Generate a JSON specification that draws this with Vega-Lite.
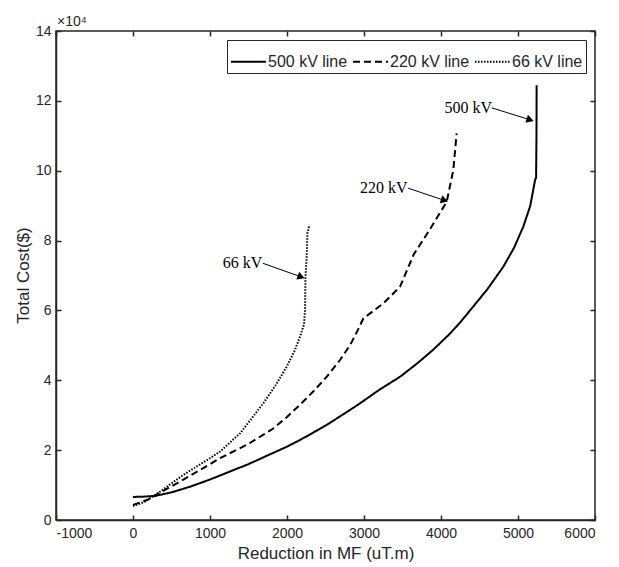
{
  "$schema": "https://vega.github.io/schema/vega-lite/v6.json",
  "autosize": {"type": "none"},
  "width": 539,
  "height": 489,
  "padding": {"left": 56, "top": 31, "right": 24, "bottom": 47},
  "background": "white",
  "config": {
    "view": {"stroke": "#262626", "strokeWidth": 1.5},
    "axis": {
      "grid": false,
      "domainColor": "#262626",
      "domainWidth": 1.5,
      "tickColor": "#262626",
      "tickWidth": 1.5,
      "labelColor": "#262626",
      "labelFont": "Liberation Sans",
      "labelFontSize": 14,
      "titleFont": "Liberation Sans",
      "titleFontSize": 17,
      "titleFontWeight": "normal",
      "titleColor": "#262626"
    },
    "legend": {
      "orient": "top-right",
      "offset": 9,
      "direction": "horizontal",
      "strokeColor": "#262626",
      "fillColor": "white",
      "padding": 3,
      "labelFont": "Liberation Sans",
      "labelFontSize": 16,
      "labelColor": "#262626",
      "labelOffset": 1,
      "columnPadding": 1,
      "symbolType": "stroke",
      "symbolSize": 1225,
      "symbolStrokeWidth": 2,
      "symbolStrokeColor": "black",
      "cornerRadius": 0
    }
  },
  "datasets": {
    "curves": [
      {"line": "500 kV line", "x": 0, "y": 6600},
      {"line": "500 kV line", "x": 150, "y": 6700},
      {"line": "500 kV line", "x": 286, "y": 6900},
      {"line": "500 kV line", "x": 500, "y": 7900},
      {"line": "500 kV line", "x": 750, "y": 9600},
      {"line": "500 kV line", "x": 1000, "y": 11600},
      {"line": "500 kV line", "x": 1500, "y": 16000},
      {"line": "500 kV line", "x": 2000, "y": 21000},
      {"line": "500 kV line", "x": 2169, "y": 22900},
      {"line": "500 kV line", "x": 2500, "y": 27000},
      {"line": "500 kV line", "x": 2818, "y": 31500},
      {"line": "500 kV line", "x": 2948, "y": 33400},
      {"line": "500 kV line", "x": 3200, "y": 37300},
      {"line": "500 kV line", "x": 3468, "y": 41000},
      {"line": "500 kV line", "x": 3700, "y": 45000},
      {"line": "500 kV line", "x": 3896, "y": 48700},
      {"line": "500 kV line", "x": 4100, "y": 53000},
      {"line": "500 kV line", "x": 4247, "y": 56500},
      {"line": "500 kV line", "x": 4377, "y": 60000},
      {"line": "500 kV line", "x": 4600, "y": 66000},
      {"line": "500 kV line", "x": 4809, "y": 72500},
      {"line": "500 kV line", "x": 4950, "y": 78000},
      {"line": "500 kV line", "x": 5069, "y": 84000},
      {"line": "500 kV line", "x": 5160, "y": 90000},
      {"line": "500 kV line", "x": 5221, "y": 97300},
      {"line": "500 kV line", "x": 5235, "y": 98000},
      {"line": "500 kV line", "x": 5240, "y": 110000},
      {"line": "500 kV line", "x": 5242, "y": 124500},
      {"line": "220 kV line", "x": 0, "y": 4300},
      {"line": "220 kV line", "x": 200, "y": 5900},
      {"line": "220 kV line", "x": 350, "y": 7800},
      {"line": "220 kV line", "x": 610, "y": 11000},
      {"line": "220 kV line", "x": 1000, "y": 16000},
      {"line": "220 kV line", "x": 1130, "y": 17700},
      {"line": "220 kV line", "x": 1500, "y": 21800},
      {"line": "220 kV line", "x": 1822, "y": 26200},
      {"line": "220 kV line", "x": 2000, "y": 29500},
      {"line": "220 kV line", "x": 2169, "y": 33000},
      {"line": "220 kV line", "x": 2350, "y": 37000},
      {"line": "220 kV line", "x": 2515, "y": 41000},
      {"line": "220 kV line", "x": 2688, "y": 45800},
      {"line": "220 kV line", "x": 2818, "y": 50000},
      {"line": "220 kV line", "x": 2900, "y": 53500},
      {"line": "220 kV line", "x": 2991, "y": 57700},
      {"line": "220 kV line", "x": 3100, "y": 59500},
      {"line": "220 kV line", "x": 3251, "y": 62000},
      {"line": "220 kV line", "x": 3468, "y": 66800},
      {"line": "220 kV line", "x": 3645, "y": 76000},
      {"line": "220 kV line", "x": 3850, "y": 83000},
      {"line": "220 kV line", "x": 4074, "y": 91100},
      {"line": "220 kV line", "x": 4160, "y": 100200},
      {"line": "220 kV line", "x": 4203, "y": 110700},
      {"line": "66 kV line", "x": 0, "y": 4000},
      {"line": "66 kV line", "x": 150, "y": 5200},
      {"line": "66 kV line", "x": 350, "y": 8100},
      {"line": "66 kV line", "x": 653, "y": 12900},
      {"line": "66 kV line", "x": 1000, "y": 17700},
      {"line": "66 kV line", "x": 1130, "y": 19600},
      {"line": "66 kV line", "x": 1390, "y": 24800},
      {"line": "66 kV line", "x": 1692, "y": 33400},
      {"line": "66 kV line", "x": 1850, "y": 38500},
      {"line": "66 kV line", "x": 1996, "y": 43900},
      {"line": "66 kV line", "x": 2100, "y": 48500},
      {"line": "66 kV line", "x": 2169, "y": 52500},
      {"line": "66 kV line", "x": 2221, "y": 56000},
      {"line": "66 kV line", "x": 2234, "y": 60100},
      {"line": "66 kV line", "x": 2240, "y": 69700},
      {"line": "66 kV line", "x": 2255, "y": 75000},
      {"line": "66 kV line", "x": 2265, "y": 82000},
      {"line": "66 kV line", "x": 2290, "y": 84500}
    ],
    "labels": [
      {"label": "66 kV", "x": 1422, "y": 73500, "ax": 1688, "ay": 73500, "bx": 2184, "by": 69600, "angle": 20},
      {"label": "220 kV", "x": 3256, "y": 95000, "ax": 3573, "ay": 95000, "bx": 4045, "by": 91500, "angle": 18.5},
      {"label": "500 kV", "x": 4355, "y": 118000, "ax": 4658, "ay": 118000, "bx": 5158, "by": 114570, "angle": 17.5}
    ],
    "corner": [{"x": -1000, "y": 140000, "t": "×10⁴"}]
  },
  "layer": [
    {
      "data": {"name": "curves"},
      "mark": {"type": "line", "color": "black", "strokeWidth": 2},
      "encoding": {
        "x": {
          "field": "x", "type": "quantitative",
          "scale": {"domain": [-1000, 6000], "nice": false, "zero": false},
          "axis": {
            "orient": "bottom",
            "tickCount": 7,
            "labelExpr": "'' + datum.value",
            "tickSize": -5,
            "labelPadding": 11,
            "title": "Reduction in MF (uT.m)",
            "titleY": 25,
            "titleBaseline": "top"
          }
        },
        "y": {
          "field": "y", "type": "quantitative",
          "scale": {"domain": [0, 140000], "nice": false},
          "axis": {
            "orient": "left",
            "tickCount": 7,
            "labelExpr": "'' + datum.value / 10000",
            "tickSize": -5,
            "labelPadding": 10,
            "title": "Total Cost($)",
            "titleX": -33,
            "titleY": 244,
            "titleAlign": "center",
            "titleBaseline": "middle",
            "titleAngle": -90
          }
        },
        "strokeDash": {
          "field": "line", "type": "nominal",
          "scale": {
            "domain": ["500 kV line", "220 kV line", "66 kV line"],
            "range": [[1, 0], [7, 4], [1.5, 1.5]]
          },
          "legend": {"title": null}
        }
      }
    },
    {
      "data": {"name": "corner"},
      "mark": {"type": "text", "align": "left", "baseline": "bottom", "dx": 1, "dy": -2, "font": "Liberation Sans", "fontSize": 14, "color": "#262626"},
      "encoding": {
        "x": {"field": "x", "type": "quantitative", "axis": {"orient": "top", "tickCount": 7, "tickSize": -5, "labels": false, "title": null, "domain": false}},
        "y": {"field": "y", "type": "quantitative", "axis": {"orient": "right", "tickCount": 7, "tickSize": -5, "labels": false, "title": null, "domain": false}},
        "text": {"field": "t"}
      }
    },
    {
      "data": {"name": "labels"},
      "mark": {"type": "rule", "color": "black", "strokeWidth": 1},
      "encoding": {
        "x": {"field": "ax", "type": "quantitative", "axis": null},
        "y": {"field": "ay", "type": "quantitative", "axis": null},
        "x2": {"field": "bx"},
        "y2": {"field": "by"}
      }
    },
    {
      "data": {"name": "labels"},
      "mark": {"type": "point", "shape": "triangle-right", "filled": true, "color": "black", "size": 70, "opacity": 1},
      "encoding": {
        "x": {"field": "bx", "type": "quantitative", "axis": null},
        "y": {"field": "by", "type": "quantitative", "axis": null},
        "angle": {"field": "angle", "type": "quantitative", "scale": null}
      }
    },
    {
      "data": {"name": "labels"},
      "mark": {"type": "text", "font": "Liberation Serif", "fontSize": 16, "color": "black", "align": "center", "baseline": "middle"},
      "encoding": {
        "x": {"field": "x", "type": "quantitative", "axis": null},
        "y": {"field": "y", "type": "quantitative", "axis": null},
        "text": {"field": "label"}
      }
    }
  ],
  "resolve": {"axis": {"x": "independent", "y": "independent"}}
}
